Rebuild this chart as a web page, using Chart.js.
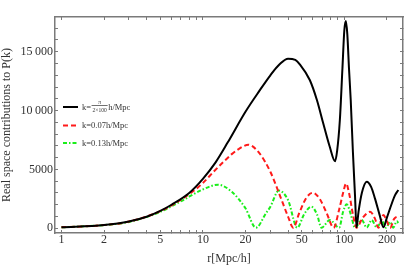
<!DOCTYPE html>
<html lang="en">
<head>
  <meta charset="UTF-8">
  <title>Real space contributions to P(k)</title>
  <script src="https://cdn.jsdelivr.net/npm/chart.js"></script>
  <style>
    html, body { margin: 0; padding: 0; background: #fff; }
  </style>
</head>
<body>
  <canvas id="myChart" width="405" height="271"></canvas>

  <script>
    // values, r in Mpc/h
    const blackR = [1, 2, 3, 4, 5, 6, 8, 10, 12.3, 15, 20, 25, 30, 35, 40, 45, 48.6, 57, 64, 71, 79, 86, 89, 93, 97, 100, 102.5, 105, 108, 111, 115, 119, 122, 126, 133, 144, 155, 165, 178, 189, 200, 215, 228, 241];
    const blackP = [80, 280, 580, 980, 1480, 2000, 3000, 4200, 5600, 7300, 9900, 11650, 13000, 13950, 14400, 14300, 13900, 12600, 10900, 8900, 6900, 5700, 6600, 9200, 13600, 16800, 17600, 16500, 13500, 10900, 6500, 2800, 80, 1400, 3000, 3960, 3500, 2500, 1100, 80, 900, 2000, 2800, 3250];

    const redR = [1, 2, 3, 5, 8, 10, 12, 14, 16, 18, 21, 25, 30, 35, 40, 43.6, 48, 54, 60, 67, 75, 84, 92, 98, 103, 108, 115, 122, 135, 152, 165, 174, 189, 200, 211, 225, 241];
    const redP = [80, 270, 570, 1460, 2900, 3850, 4850, 5650, 6300, 6750, 7100, 6400, 4800, 2800, 1000, 50, 1300, 2600, 3020, 2500, 1300, 50, 1600, 3000, 3800, 3000, 1200, 50, 900, 1400, 800, 50, 1130, 600, 50, 800, 1040];

    const greenR = [1, 2, 3, 5, 7, 10, 12.8, 16, 20, 23.7, 28, 30, 34.4, 40, 46.5, 52, 58.5, 64, 69, 79, 92, 98, 104, 111, 119, 133, 144, 156, 170, 184, 197, 211, 222, 235, 241];
    const greenP = [80, 270, 540, 1400, 2300, 3300, 3700, 3100, 1700, 50, 1300, 1830, 3200, 2400, 50, 1200, 1840, 1200, 50, 700, 50, 1400, 2040, 1200, 50, 700, 50, 700, 50, 650, 50, 550, 50, 600, 450];

    const xMajor = [1, 2, 5, 10, 20, 50, 100, 200];
    const xMinor = [3, 4, 6, 7, 8, 9, 30, 40, 60, 70, 80, 90];
    const yMajor = [0, 5000, 10000, 15000];
    const yMinor = [1000, 2000, 3000, 4000, 6000, 7000, 8000, 9000, 11000, 12000, 13000, 14000, 16000, 17000];

    const legendLabels = ['k=', 'k=0.07h/Mpc', 'k=0.13h/Mpc'];

    const serif = '"Liberation Serif", "DejaVu Serif", serif';
    const frameColor = '#7a7a7a';

    function pts(xs, ys) {
      return xs.map((x, i) => ({ x: x, y: ys[i] }));
    }

    const allX = xMajor.concat(xMinor).sort((a, b) => a - b);
    const allY = yMajor.concat(yMinor).sort((a, b) => a - b);

    // frame with inward ticks, shared by the four axes
    const frameGrid = { display: true, drawOnChartArea: false, drawTicks: true, tickLength: -3, tickWidth: 1, tickColor: frameColor, color: frameColor };
    const frameBorder = { display: true, color: frameColor, width: 1.5 };

    // legend drawn by hand because of the fraction in the first label
    const legendPlugin = {
      id: 'fracLegend',
      afterDraw(chart) {
        const c = chart.ctx;
        const rows = [107, 125.5, 143];
        c.save();
        chart.data.datasets.forEach((ds, i) => {
          const y = rows[i];
          c.strokeStyle = ds.borderColor;
          c.lineWidth = ds.borderWidth;
          c.setLineDash(ds.borderDash || []);
          c.beginPath();
          c.moveTo(63, y);
          c.lineTo(78, y);
          c.stroke();
          c.setLineDash([]);
          c.fillStyle = '#333';
          c.textBaseline = 'middle';
          c.textAlign = 'left';
          c.font = '8.5px ' + serif;
          c.fillText(legendLabels[i], 82, y + 0.5);
          if (i === 0) {
            const w = c.measureText(legendLabels[0]).width;
            const x0 = 82 + w + 0.5;
            c.font = '5.5px ' + serif;
            const den = '2\u00d7100';
            const dw = c.measureText(den).width;
            c.textAlign = 'center';
            c.fillText('\u03c0', x0 + dw / 2 + 1, y - 4.5);
            c.fillText(den, x0 + dw / 2 + 1, y + 4);
            c.fillRect(x0, y - 2, dw + 2, 0.7);
            c.textAlign = 'left';
            c.font = '8.5px ' + serif;
            c.fillText('h/Mpc', x0 + dw + 2.5, y + 0.5);
          }
        });
        c.restore();
      }
    };

    const ctx = document.getElementById('myChart').getContext('2d');
    new Chart(ctx, {
      type: 'line',
      data: {
        datasets: [
          {
            label: 'k=\u03c0/(2\u00d7100)h/Mpc',
            data: pts(blackR, blackP),
            borderColor: '#000',
            borderWidth: 2,
            pointRadius: 0,
            cubicInterpolationMode: 'monotone'
          },
          {
            label: 'k=0.07h/Mpc',
            data: pts(redR, redP),
            borderColor: '#ff1a1a',
            borderWidth: 2,
            borderDash: [5, 3],
            pointRadius: 0,
            cubicInterpolationMode: 'monotone'
          },
          {
            label: 'k=0.13h/Mpc',
            data: pts(greenR, greenP),
            borderColor: '#1aee1a',
            borderWidth: 2,
            borderDash: [4, 2, 1.5, 2],
            pointRadius: 0,
            cubicInterpolationMode: 'monotone'
          }
        ]
      },
      options: {
        responsive: false,
        animation: false,
        layout: { padding: { top: 17, right: 2, left: 0, bottom: 0 } },
        plugins: {
          legend: { display: false },
          tooltip: { enabled: false }
        },
        scales: {
          x: {
            type: 'logarithmic',
            position: 'bottom',
            min: 0.9,
            max: 260,
            grid: frameGrid,
            border: frameBorder,
            afterBuildTicks: (scale) => { scale.ticks = allX.map(v => ({ value: v })); },
            afterFit: (scale) => { scale.height = 38; },
            ticks: {
              autoSkip: false,
              maxRotation: 0,
              padding: 3,
              color: '#333',
              font: { family: serif, size: 12 },
              callback: (v) => xMajor.includes(v) ? String(v) : ''
            },
            title: {
              display: true,
              text: 'r[Mpc/h]',
              color: '#333',
              font: { family: serif, size: 12 },
              padding: { top: 0, bottom: 5 }
            }
          },
          x2: {
            type: 'logarithmic',
            position: 'top',
            min: 0.9,
            max: 260,
            grid: frameGrid,
            border: frameBorder,
            afterBuildTicks: (scale) => { scale.ticks = allX.map(v => ({ value: v })); },
            afterFit: (scale) => { scale.height = 0; },
            ticks: { display: false }
          },
          y: {
            type: 'linear',
            position: 'left',
            min: -400,
            max: 17950,
            grid: frameGrid,
            border: frameBorder,
            afterBuildTicks: (scale) => { scale.ticks = allY.map(v => ({ value: v })); },
            afterFit: (scale) => { scale.width = 55; },
            ticks: {
              autoSkip: false,
              padding: 5,
              color: '#333',
              font: { family: serif, size: 12 },
              callback: (v) => !yMajor.includes(v) ? '' :
                (v >= 10000 ? String(v).slice(0, 2) + '\u2009' + String(v).slice(2) : String(v))
            },
            title: {
              display: true,
              text: 'Real space contributions to P(k)',
              color: '#333',
              font: { family: serif, size: 12 },
              padding: { top: 0, bottom: 0 }
            }
          },
          y2: {
            type: 'linear',
            position: 'right',
            min: -400,
            max: 17950,
            grid: frameGrid,
            border: frameBorder,
            afterBuildTicks: (scale) => { scale.ticks = allY.map(v => ({ value: v })); },
            afterFit: (scale) => { scale.width = 0; },
            ticks: { display: false }
          }
        }
      },
      plugins: [legendPlugin]
    });
  </script>
</body>
</html>
